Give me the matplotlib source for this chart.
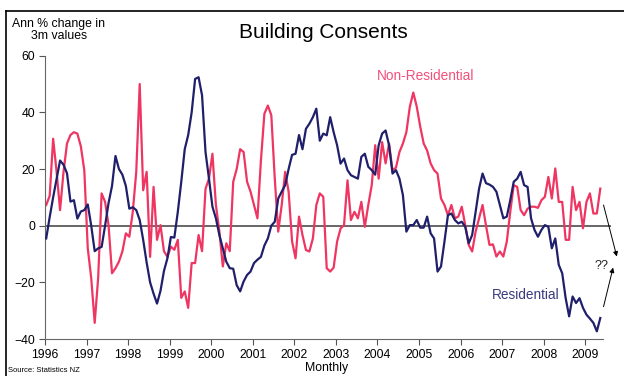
import matplotlib
matplotlib.use('Agg')
import matplotlib.pyplot as plt
from matplotlib.lines import Line2D
import numpy as np

plt.rcParams['font.family'] = ['Liberation Sans', 'DejaVu Sans']

# monthly series, Jan 1996 .. May 2009 (annual % change in 3m values)
residential = [
    -4.5, 3, 10, 16.5, 23, 21.5, 18.5, 8.5, 9, 2.5, 5, 5.5,
    7.5, 0, -9, -8, -7.5, 0, 8, 14, 24.6, 20, 18, 14,
    6, 6.5, 5.5, 2, -5, -13, -20, -24, -27.5, -23, -16, -11.5,
    -4, -4.2, 4.9, 15.5, 27, 32, 40, 51.8, 52.4, 46, 26, 16.6,
    6.7, 2.6, -3.3, -8, -12.7, -15, -15.2, -21, -23.2, -19.7, -17.4, -16.2,
    -13.2, -12, -11, -7, -4.5, 0, 1.4, 9.6, 12, 14.3, 20, 25,
    25.4, 32, 27, 34.2, 36, 38.3, 41.3, 30, 32.5, 31.9, 38.3, 33,
    28.4, 21.9, 23.7, 19.6, 17.8, 17.2, 16.6, 24.3, 25.4, 20.8, 19.6, 18,
    28.4, 32.5, 33.6, 28.4, 18.4, 19.6, 16.6, 10.8, -2.1, 0.2, 0.2, 2,
    -0.7, -0.7, 3.2, -2.7, -4.5, -16.2, -14.4, -5.6, 3.7, 4.3, 2, 0.8,
    1.4, -0.4, -6.2, -3.3, 4.9, 13.1, 18.4, 15, 14.5, 13.7, 12, 7.3,
    2.6, 3.2, 9, 15.5, 16.6, 19, 14.3, 13.7, 2.6, -1.5, -3.9, -1.5,
    0.2, -0.4, -8, -4.5, -13.8, -16.8, -25.6, -32, -25, -27.3, -25.6, -29,
    -31.4, -32.8, -34.3, -37.3, -32.6,
]
non_residential = [
    7.3, 10.5, 30.7, 19, 5.5, 19, 29, 32, 33, 32.5, 28, 19.5,
    -8, -18.5, -34.3, -18.5, 11.4, 8.4, 0.2, -16.8, -15, -12.7, -9.1, -2.7,
    -3.9, 4.9, 19, 50, 12.5, 19, -11, 13.7, -5, 0.2, -9, -11,
    -7.4, -8.5, -5, -25.5, -23.2, -29, -13.2, -13.2, -3.3, -9, 13, 16.6,
    25.4, 7.3, -2, -14.4, -6.2, -9, 15.5, 20, 27, 26, 15.5, 12,
    7.3, 2.6, 23, 39.5, 42.4, 39, 16.6, -2.1, 7.3, 19, 12, -5.6,
    -11.5, 3.2, -3.3, -8.6, -9.1, -4.5, 7.3, 11.4, 10.2, -15, -16.2, -14.8,
    -5.6, -1, 0.2, 16, 2, 4.9, 2.6, 8.4, -0.4, 7.3, 14.3, 28.4,
    16.6, 29.5, 22, 29, 19.5, 20.5, 26, 29, 33, 42, 47, 42,
    35, 29, 26.5, 22, 19.6, 18.4, 9.6, 7.3, 3.7, 7.3, 2.6, 3.2,
    6.7, 0.2, -6.8, -9.1, -2.1, 2.6, 7.3, 0, -6.8, -6.6, -10.9, -9.1,
    -10.9, -5.6, 4.9, 14.3, 13.7, 5.5, 3.7, 6, 6.7, 6.7, 6.3, 9,
    10.2, 17.2, 9.6, 20.2, 8.4, 8.4, -5, -5, 13.7, 5.5, 8.4, -0.9,
    8.4, 11.4, 4.3, 4.3, 13.1,
]
years = list(range(1996, 2010))
yticks = [-40, -20, 0, 20, 40, 60]

x = 1996 + (np.arange(len(residential)) + 0.35) / 12

navy = '#1f1f6b'
red = '#ef3561'

fig = plt.figure(figsize=(6.24, 3.76), dpi=100)
ax = fig.add_axes([45/624, 1-339/376, 566/624, (339-55.7)/376])

ax.axhline(0, color='#5a5a5a', lw=1.3, zorder=1)
ax.plot(x, non_residential, color=red, lw=1.6, zorder=2)
ax.plot(x, residential, color=navy, lw=1.6, zorder=3)

ax.set_xlim(1996, 2009.62)
ax.set_ylim(-40, 60)
ax.set_xticks(years)
ax.set_xticklabels([str(y) for y in years])
ax.set_yticks(yticks)
ax.tick_params(axis='both', direction='out', length=4, width=0.8,
               color='#555555', labelsize=8.8, pad=3)
for s in ['top', 'right']:
    ax.spines[s].set_visible(False)
ax.spines['left'].set_color('#666666')
ax.spines['bottom'].set_color('#666666')
ax.spines['bottom'].set_bounds(1996, 2009.43)

ax.text(2005.15, 52.8, 'Non-Residential', color='#f0507a', fontsize=9.8,
        ha='center', va='center')
ax.text(2007.57, -24.5, 'Residential', color='#3a3a80', fontsize=9.8,
        ha='center', va='center')
ax.text(2009.40, -14.1, '??', color='#222222', fontsize=9, ha='center',
        va='center', clip_on=False)
arrow = dict(arrowstyle='-|>', color='black', lw=0.7, mutation_scale=7,
             shrinkA=0, shrinkB=0)
ax.annotate('', xy=(2009.76, -10.9), xytext=(2009.44, 7.3),
            arrowprops=arrow, annotation_clip=False)
ax.annotate('', xy=(2009.67, -14.8), xytext=(2009.44, -28.6),
            arrowprops=arrow, annotation_clip=False)

fig.text(323/624, 1-32/376, 'Building Consents', fontsize=15,
         ha='center', va='center')
fig.text(59/624, 1-30/376, 'Ann % change in\n3m values', fontsize=8.8,
         ha='center', va='center', linespacing=1.1)
fig.text(327/624, 1-368/376, 'Monthly', fontsize=8.8, ha='center', va='center')
fig.text(8/624, 1-371/376, 'Source: Statistics NZ', fontsize=5.5,
         ha='left', va='center')

# outer frame (top and left edges visible in the crop)
fig.add_artist(Line2D([5.5/624, 1], [1-11/376, 1-11/376], color='black', lw=1.2))
fig.add_artist(Line2D([5.5/624, 5.5/624], [0, 1-11/376], color='black', lw=1.2))

fig.savefig('out.png', dpi=100)
